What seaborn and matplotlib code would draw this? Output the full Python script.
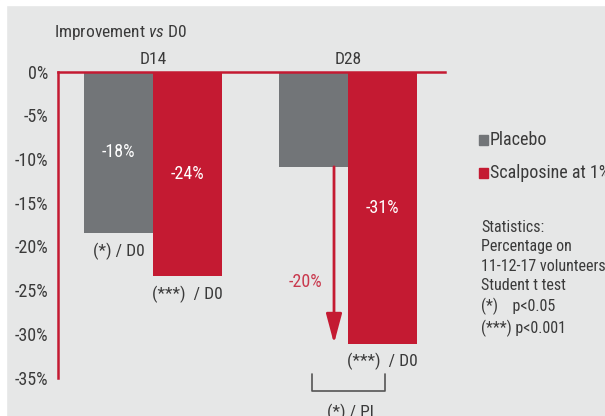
import numpy as np
import pandas as pd
import matplotlib
matplotlib.use('Agg')
import matplotlib.pyplot as plt
import seaborn as sns
from matplotlib.patches import Rectangle
from matplotlib.transforms import Affine2D

# values (improvement vs D0, %)
days = ['D14', 'D28']
treatments = ['Placebo', 'Scalposine at 1%']
placebo = [-18.5, -10.9]
scalposine = [-23.4, -31.1]
bar_labels = {'Placebo': ['-18%', ''], 'Scalposine at 1%': ['-24%', '-31%']}
sig_labels = {'Placebo': ['(*) / D0', ''], 'Scalposine at 1%': ['(***)  / D0', '(***)  / D0']}
diff_label = '-20%'
diff_sig = '(*) / Pl'
yticks = [0, -5, -10, -15, -20, -25, -30, -35]
stats_lines = ['Statistics:', 'Percentage on', '11-12-17 volunteers',
               'Student t test', '(*)    p<0.05', '(***) p<0.001']

GRAY = '#727578'
RED = '#c41a32'
BG = '#e6e7e7'
TXT = '#3a3a3a'

df = pd.DataFrame({
    'day': days * 2,
    'treatment': [treatments[0]] * 2 + [treatments[1]] * 2,
    'value': placebo + scalposine,
})

sns.set_theme(style='white')
plt.rcParams['font.family'] = ['Roboto Condensed', 'Liberation Sans', 'DejaVu Sans']
plt.rcParams['mathtext.fontset'] = 'custom'
plt.rcParams['mathtext.it'] = 'Roboto Condensed:italic'
plt.rcParams['mathtext.rm'] = 'Roboto Condensed'

W, H = 605, 416
fig = plt.figure(figsize=(W / 100, H / 100), dpi=100, facecolor=BG)
# pixel transform, origin top-left
px = Affine2D().scale(1 / W, -1 / H).translate(0, 1) + fig.transFigure

# white frame on top/left
fig.patches.append(Rectangle((0, 0), 6 / W, 1, transform=fig.transFigure, color='white', zorder=0))
fig.patches.append(Rectangle((0, 1 - 5 / H), 1, 5 / H, transform=fig.transFigure, color='white', zorder=0))

ax = fig.add_axes([58 / W, 38.3 / H, (445 - 58) / W, (377.7 - 71.5) / H])
ax.set_facecolor('none')

bw = 0.708
sns.barplot(data=df, x='day', y='value', hue='treatment', hue_order=treatments,
            palette=[GRAY, RED], width=bw, gap=0, saturation=1, legend=False,
            linewidth=0, ax=ax)

ax.set_xlim(-0.487, 1.497)
ax.set_ylim(-35, 0)
ax.set_xlabel('')
ax.set_ylabel('')

for s in ['right', 'bottom']:
    ax.spines[s].set_visible(False)
for s in ['left', 'top']:
    ax.spines[s].set_color(RED)
    ax.spines[s].set_linewidth(1.8)
    ax.spines[s].set_zorder(5)

ax.xaxis.tick_top()
ax.tick_params(axis='x', length=0, pad=3, labelsize=12.5, labelcolor=TXT)
ax.set_yticks(yticks)
ax.set_yticklabels([f'{v}%' for v in yticks])
ax.tick_params(axis='y', direction='in', length=4, width=2, color=RED, pad=7,
               labelsize=13, labelcolor=TXT)

# labels inside and under bars
offs = [-bw / 4, bw / 4]
for k, t in enumerate(treatments):
    vals = placebo if k == 0 else scalposine
    for i, v in enumerate(vals):
        x = i + offs[k]
        if bar_labels[t][i]:
            ax.text(x, v / 2, bar_labels[t][i], color='white', ha='center', va='center', fontsize=13)
        if sig_labels[t][i]:
            ax.annotate(sig_labels[t][i], (x, v), xytext=(0, -13), textcoords='offset points',
                        ha='center', va='center', fontsize=12.5, color=TXT, annotation_clip=False)

# difference arrow at D28
ax.annotate('', xy=(1 - 0.072, scalposine[1]), xytext=(1 - 0.072, placebo[1]),
            arrowprops=dict(arrowstyle='-|>,head_length=1.5,head_width=0.4', color=RED, lw=2,
                            shrinkA=0, shrinkB=0))
ax.text(0.779, -24.1, diff_label, color=RED, ha='center', va='center', fontsize=13, alpha=0.85)

# bracket under D28
bx = [1 - bw / 4 - 0.01, 1 + bw / 4 + 0.01]
ax.plot([bx[0], bx[0], bx[1], bx[1]], [-34.6, -36.5, -36.5, -34.6], color='#555555',
        lw=1.2, clip_on=False)
ax.text(1.01, -38.0, diff_sig, ha='center', va='top', fontsize=12.5, color=TXT, clip_on=False)

# title
fig.text(54, 33, r'Improvement $\it{vs}$ D0', transform=px, ha='left', va='center',
         fontsize=12.5, color=TXT)

# legend drawn by hand
for k, (t, c) in enumerate(zip(treatments, [GRAY, RED])):
    y = 140 + 33 * k
    fig.patches.append(Rectangle((479, y - 5), 8.5, 10, transform=px, color=c))
    fig.text(490, y, t, transform=px, ha='left', va='center', fontsize=13, color=TXT)

# statistics note
fig.text(481, 220, '\n'.join(stats_lines), transform=px, ha='left', va='top',
         fontsize=11.5, color=TXT, linespacing=1.36)

fig.savefig('out.png', dpi=100, facecolor=fig.get_facecolor())
